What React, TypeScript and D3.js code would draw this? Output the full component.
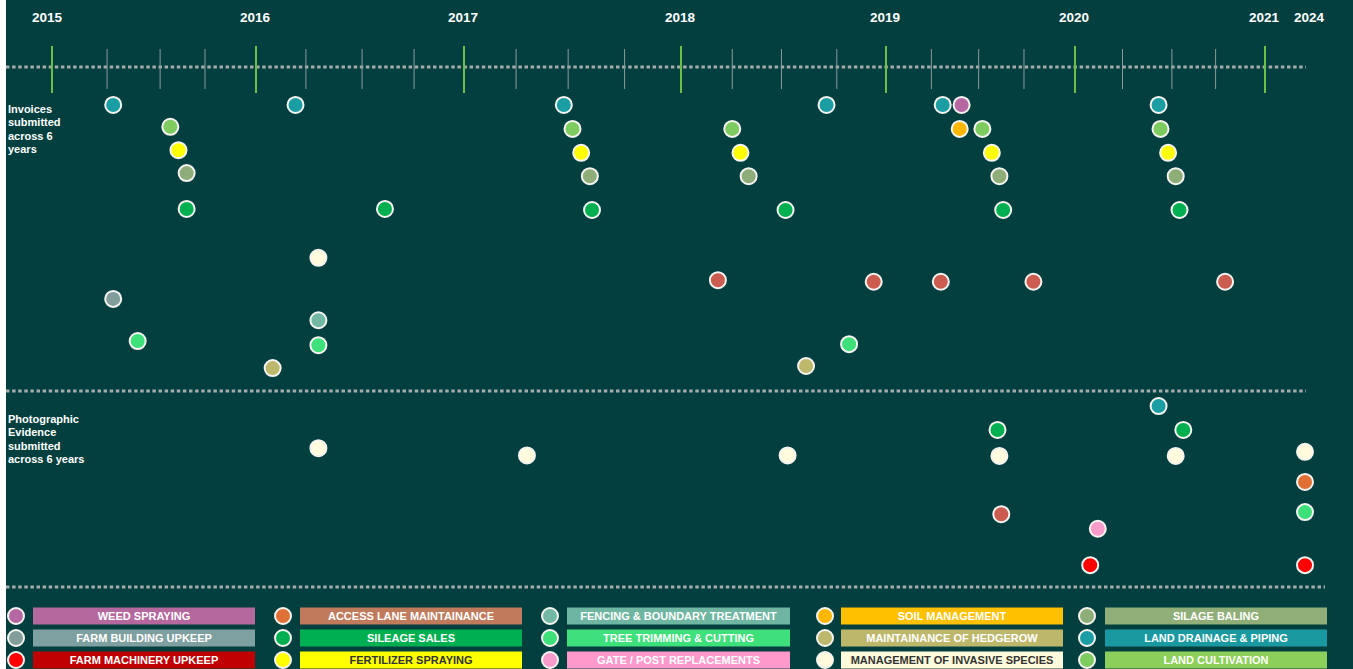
import React from "react";
import * as d3 from "d3";

// ---------- DATA ----------
const yearTicks = [2015, 2016, 2017, 2018, 2019, 2020, 2021];
const yearLabels = ["2015", "2016", "2017", "2018", "2019", "2020", "2021", "2024"];
const yearLabelValues = [2015, 2016, 2017, 2018, 2019, 2020, 2021, 2024];
const quarterTicks = [
  2015.27, 2015.53, 2015.75, 2016.24, 2016.51, 2016.76, 2017.24, 2017.48, 2017.74,
  2018.25, 2018.49, 2018.76, 2019.24, 2019.49, 2019.73, 2020.25, 2020.51, 2020.74,
];

const categories = [
  "WEED SPRAYING", "FARM BUILDING UPKEEP", "FARM MACHINERY UPKEEP",
  "ACCESS LANE MAINTAINANCE", "SILEAGE SALES", "FERTILIZER SPRAYING",
  "FENCING & BOUNDARY TREATMENT", "TREE TRIMMING & CUTTING", "GATE / POST REPLACEMENTS",
  "SOIL MANAGEMENT", "MAINTAINANCE OF HEDGEROW", "MANAGEMENT OF INVASIVE SPECIES",
  "SILAGE BALING", "LAND DRAINAGE & PIPING", "LAND CULTIVATION", "OTHER",
];
const dotColors = [
  "#b767a2", "#819d9c", "#ff0000",
  "#e07035", "#00b050", "#ffff00",
  "#72b8a5", "#3ee07a", "#f99bcb",
  "#ffb700", "#bdb86b", "#fffbdc",
  "#8fad78", "#1b9ea3", "#7ecb5f", "#cd5c50",
];
const legendFills = [
  "#b5689e", "#7fa0a0", "#c00000",
  "#c07a5c", "#00b050", "#ffff00",
  "#6fb6a2", "#3de07a", "#ff99cc",
  "#ffc000", "#bdb76b", "#fffbdc",
  "#8fae78", "#1a9aa0", "#8ccf5a",
];
const legendTextColors = [
  "#ffffff", "#ffffff", "#ffffff",
  "#ffffff", "#ffffff", "#333333",
  "#ffffff", "#ffffff", "#ffffff",
  "#ffffff", "#ffffff", "#333333",
  "#ffffff", "#ffffff", "#ffffff",
];

// Invoice points: date (decimal year), level, category index
const invoiceDates = [
  2015.30, 2016.19, 2017.46, 2018.71, 2019.30, 2019.40, 2020.44,
  2015.58, 2017.50, 2018.25, 2019.51, 2020.45, 2019.39,
  2015.62, 2017.54, 2018.29, 2019.56, 2020.49,
  2015.66, 2017.58, 2018.33, 2019.60, 2020.53,
  2015.66, 2016.62, 2017.59, 2018.51, 2019.62, 2020.55,
  2016.30,
  2018.18, 2018.94, 2019.29, 2019.78, 2020.79,
  2015.30,
  2016.30,
  2015.42, 2016.30, 2018.82,
  2016.08, 2018.61,
];
const invoiceLevels = [
  92.7, 92.7, 92.7, 92.7, 92.7, 92.7, 92.7,
  88.5, 88.1, 88.1, 88.1, 88.1, 88.1,
  84.0, 83.5, 83.5, 83.5, 83.5,
  79.6, 79.0, 79.0, 79.0, 79.0,
  72.7, 72.7, 72.5, 72.5, 72.5, 72.5,
  63.3,
  59.0, 58.7, 58.7, 58.7, 58.7,
  55.4,
  51.3,
  47.3, 46.5, 46.7,
  42.1, 42.5,
];
const invoiceCats = [
  13, 13, 13, 13, 13, 0, 13,
  14, 14, 14, 14, 14, 9,
  5, 5, 5, 5, 5,
  12, 12, 12, 12, 12,
  4, 4, 4, 4, 4, 4,
  11,
  15, 15, 15, 15, 15,
  1,
  6,
  7, 7, 7,
  10, 10,
];

// Photographic evidence points
const photoDates = [
  2016.30, 2017.29, 2018.52, 2020.44, 2019.59, 2020.57, 2019.60, 2020.53,
  2024, 2024, 2024, 2019.61, 2020.12, 2020.08, 2024,
];
const photoLevels = [
  26.7, 25.3, 25.3, 34.8, 30.2, 30.2, 25.2, 25.2,
  26.0, 20.2, 14.4, 14.0, 11.2, 4.2, 4.2,
];
const photoCats = [
  11, 11, 11, 13, 4, 4, 11, 11,
  11, 3, 7, 15, 8, 2, 2,
];

const invoiceLabel = ["Invoices", "submitted", "across 6", "years"];
const photoLabel = ["Photographic", "Evidence", "submitted", "across 6 years"];

// ---------- CHART ----------
const W = 1353;
const H = 669;
const BG = "#043f40";
const FONT = "'Liberation Sans', Arial, Helvetica, sans-serif";

export default function App() {
  const x = d3
    .scaleLinear()
    .domain([2015, 2016, 2017, 2018, 2019, 2020, 2021, 2024])
    .range([52, 256, 464, 681, 886, 1075, 1265, 1305]);
  const y = d3.scaleLinear().domain([0, 100]).range([587, 67]);

  const points = [
    ...invoiceDates.map((d, i) => ({ d, v: invoiceLevels[i], c: invoiceCats[i] })),
    ...photoDates.map((d, i) => ({ d, v: photoLevels[i], c: photoCats[i] })),
  ];

  const legendCols = [
    { cx: 16, rx: 33, rw: 222 },
    { cx: 283, rx: 300, rw: 222 },
    { cx: 550, rx: 567, rw: 223 },
    { cx: 825, rx: 841, rw: 222 },
    { cx: 1087, rx: 1105, rw: 222 },
  ];
  const legendRows = [616, 638, 660];

  const dotted = { stroke: "#a3abab", strokeWidth: 3, strokeDasharray: "3.5,2.6" };

  return (
    <svg
      width={W}
      height={H}
      style={{ position: "absolute", left: 0, top: 0, display: "block" }}
      fontFamily={FONT}
    >
      <rect x={0} y={0} width={W} height={H} fill="#ffffff" />
      <rect x={6} y={0} width={W - 6} height={H} fill={BG} />

      {/* year labels */}
      {yearLabels.map((t, i) => (
        <text
          key={t}
          x={x(yearLabelValues[i]) + (t === "2024" ? 4 : t === "2015" ? -5 : -1)}
          y={22}
          textAnchor="middle"
          fontSize={13.5}
          fontWeight="bold"
          fill="#ffffff"
        >
          {t}
        </text>
      ))}

      {/* axis dotted line */}
      <line x1={6} x2={1306} y1={67} y2={67} {...dotted} />

      {/* minor ticks */}
      {quarterTicks.map((q) => (
        <line key={q} x1={x(q)} x2={x(q)} y1={49} y2={89} stroke="#889c9c" strokeWidth={1} />
      ))}
      {/* year ticks */}
      {yearTicks.map((yr) => (
        <line key={yr} x1={x(yr)} x2={x(yr)} y1={46} y2={93} stroke="#6cc04a" strokeWidth={2} />
      ))}

      {/* separators */}
      <line x1={6} x2={1306} y1={391} y2={391} {...dotted} />
      <line x1={6} x2={1325} y1={587} y2={587} {...dotted} />

      {/* section labels */}
      {invoiceLabel.map((t, i) => (
        <text key={t} x={8} y={113 + i * 13.4} fontSize={11} fontWeight="bold" fill="#ffffff">
          {t}
        </text>
      ))}
      {photoLabel.map((t, i) => (
        <text key={t} x={8} y={423 + i * 13.4} fontSize={11} fontWeight="bold" fill="#ffffff">
          {t}
        </text>
      ))}

      {/* points */}
      {points.map((p, i) => (
        <circle
          key={i}
          cx={x(p.d)}
          cy={y(p.v)}
          r={8}
          fill={dotColors[p.c]}
          stroke="#f4f4f0"
          strokeWidth={2}
        />
      ))}

      {/* legend */}
      {legendFills.map((fill, i) => {
        const col = legendCols[Math.floor(i / 3)];
        const cy = legendRows[i % 3];
        return (
          <g key={categories[i]}>
            <circle cx={col.cx} cy={cy} r={8} fill={dotColors[i]} stroke="#f4f4f0" strokeWidth={2} />
            <rect x={col.rx} y={cy - 8.5} width={col.rw} height={17} fill={fill} />
            <text
              x={col.rx + col.rw / 2}
              y={cy + 4}
              textAnchor="middle"
              fontSize={11}
              fontWeight="bold"
              fill={legendTextColors[i]}
            >
              {categories[i]}
            </text>
          </g>
        );
      })}
    </svg>
  );
}
